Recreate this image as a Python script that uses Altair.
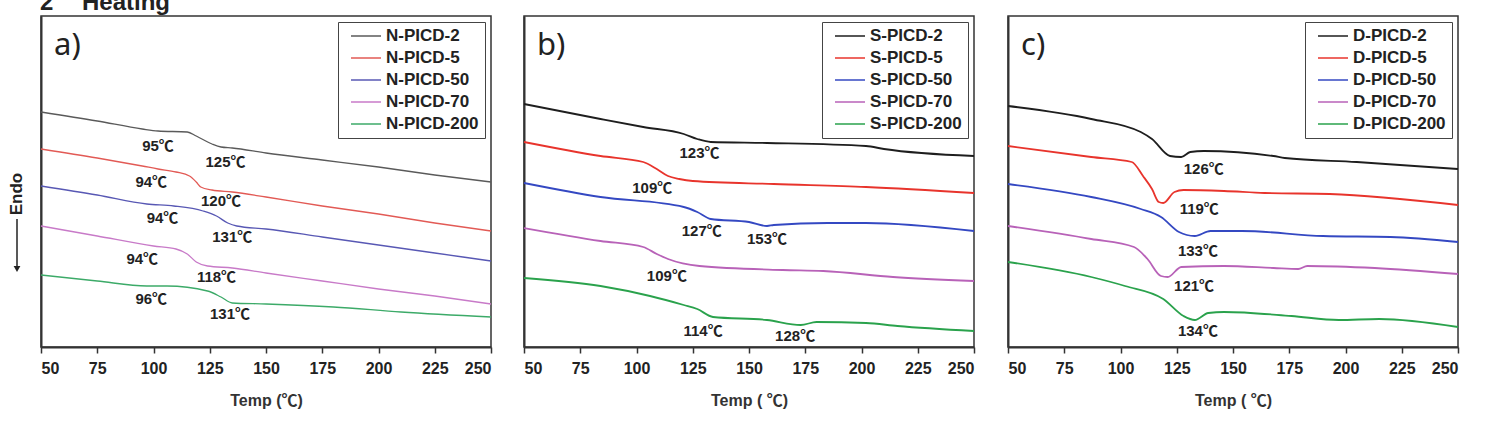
import altair as alt
import pandas as pd

# ---------------- data (temperature in deg C, signal in a.u., endo downward) ----------------
N2_T = [50, 75, 95, 102, 115, 119, 126, 130, 135, 150, 175, 200, 225, 250]
N2_Y = [113, 122, 130, 132, 133, 137, 145, 148, 149, 154, 161, 168, 176, 183]
N5_T = [50, 75, 95, 102, 110, 116, 119, 121, 126, 135, 150, 175, 200, 225, 250]
N5_Y = [150, 159, 167, 170, 173, 177, 183, 188, 191, 193, 198, 207, 215, 224, 232]
N50_T = [50, 75, 97, 109, 122, 128, 133, 137, 150, 175, 200, 225, 250]
N50_Y = [187, 196, 205, 207, 212, 217, 224, 227, 230, 238, 246, 254, 262]
N70_T = [50, 75, 100, 110, 115, 119, 124, 135, 150, 175, 200, 225, 250]
N70_Y = [227, 237, 247, 250, 255, 263, 267, 269, 274, 282, 290, 297, 305]
N200_T = [50, 75, 97, 106, 124, 130, 135, 150, 180, 210, 250]
N200_Y = [276, 282, 287, 287, 292, 298, 304, 305, 308, 313, 318]

S2_T = [50, 84, 103, 121, 127, 133, 158, 202, 210, 250]
S2_Y = [105, 120, 128, 135, 140, 143, 144, 147, 150, 157]
S5_T = [50, 84, 103, 109, 114, 119, 125, 161, 202, 250]
S5_Y = [143, 157, 163, 170, 177, 180, 182, 185, 188, 194]
S50_T = [50, 84, 121, 127, 133, 150, 158, 161, 185, 202, 250]
S50_Y = [184, 198, 208, 213, 220, 223, 227, 226, 224, 224, 232]
S70_T = [50, 84, 103, 109, 114, 128, 165, 183, 214, 250]
S70_Y = [229, 242, 248, 255, 260, 267, 271, 272, 278, 282]
S200_T = [50, 84, 106, 121, 127, 134, 158, 173, 180, 202, 216, 250]
S200_Y = [279, 287, 297, 306, 310, 318, 321, 326, 323, 324, 327, 332]

D2_T = [50, 87, 109, 114, 122, 127, 131, 137, 168, 173, 205, 250]
D2_Y = [107, 120, 133, 140, 157, 158, 153, 152, 157, 159, 163, 170]
D5_T = [50, 87, 105, 110, 114, 117, 119, 124, 128, 146, 164, 193, 250]
D5_Y = [147, 158, 163, 177, 190, 203, 204, 193, 191, 192, 194, 195, 206]
D50_T = [50, 87, 109, 118, 126, 133, 140, 154, 190, 220, 250]
D50_Y = [185, 198, 210, 218, 233, 237, 232, 232, 237, 238, 243]
D70_T = [50, 87, 106, 112, 118, 121, 127, 146, 168, 179, 183, 213, 250]
D70_Y = [227, 240, 248, 260, 277, 278, 268, 267, 269, 270, 267, 269, 275]
D200_T = [50, 87, 102, 119, 128, 133, 139, 146, 176, 197, 215, 250]
D200_Y = [263, 278, 287, 300, 317, 321, 314, 313, 317, 321, 320, 328]

N_NAMES = ["N-PICD-2", "N-PICD-5", "N-PICD-50", "N-PICD-70", "N-PICD-200"]
S_NAMES = ["S-PICD-2", "S-PICD-5", "S-PICD-50", "S-PICD-70", "S-PICD-200"]
D_NAMES = ["D-PICD-2", "D-PICD-5", "D-PICD-50", "D-PICD-70", "D-PICD-200"]

N_COLORS = ["#5a5a5a", "#e25a55", "#5858b4", "#c87ac8", "#3caa68"]
S_COLORS = ["#1e1e1e", "#e8342c", "#3448c2", "#b862b8", "#2aa24c"]
D_COLORS = ["#1e1e1e", "#e8342c", "#3448c2", "#b862b8", "#2aa24c"]

# annotations: label, temperature position, signal position
N_LAB = ["95℃", "125℃", "94℃", "120℃", "94℃", "131℃", "94℃", "118℃", "96℃", "131℃"]
N_LAB_T = [102, 132, 99, 130, 104, 135, 95, 128, 99, 134]
N_LAB_Y = [147, 163, 183, 202, 219, 238, 260, 278, 300, 315]
S_LAB = ["123℃", "109℃", "127℃", "153℃", "109℃", "114℃", "128℃"]
S_LAB_T = [128, 107, 129, 158, 113.5, 129.6, 170.5]
S_LAB_Y = [154, 189, 232, 240, 277, 332, 337]
D_LAB = ["126℃", "119℃", "133℃", "121℃", "134℃"]
D_LAB_T = [137, 135, 134.4, 132.7, 134.4]
D_LAB_Y = [170, 210, 252, 287, 332]

X_TICKS = [50 + 12.5 * i for i in range(17)]

FONT = "Liberation Sans, Arial, Noto Sans CJK SC, DejaVu Sans"
W, H = 450, 331


def series_df(names, ts, ys):
    rows = []
    for n, t, y in zip(names, ts, ys):
        for a, b in zip(t, y):
            rows.append({"series": n, "T": a, "sig": b})
    return pd.DataFrame(rows)


def panel(names, colors, ts, ys, labs, lab_t, lab_y, letter, xtitle, sw, extra=None):
    df = series_df(names, ts, ys)
    xscale = alt.Scale(domain=[50, 250], nice=False, zero=False)
    yscale = alt.Scale(domain=[17, 348], reverse=True, nice=False, zero=False)
    xaxis = alt.Axis(
        values=X_TICKS,
        labelExpr="datum.value % 25 === 0 ? datum.label : ''",
        tickSize={"condition": {"test": "datum.value % 25 === 0", "value": 6}, "value": 3},
        title=xtitle,
        grid=False,
        domainColor="#333", domainWidth=2, tickColor="#333", tickWidth=1.5,
        labelFont=FONT, labelFontSize=16, labelFontWeight="bold", labelColor="#222", labelPadding=7,
        titleFont=FONT, titleFontSize=16, titleFontWeight="bold", titleColor="#333", titlePadding=16,
    )
    yaxis = alt.Axis(labels=False, ticks=False, title=None, grid=False,
                     domainColor="#333", domainWidth=2)
    lines = alt.Chart(df).mark_line(strokeWidth=sw, interpolate="monotone").encode(
        x=alt.X("T:Q", scale=xscale, axis=xaxis),
        y=alt.Y("sig:Q", scale=yscale, axis=yaxis),
        color=alt.Color(
            "series:N",
            scale=alt.Scale(domain=names, range=colors),
            sort=names,
            legend=alt.Legend(
                title=None,
                orient="top-right",
                offset=6,
                strokeColor="#444",
                fillColor="white",
                padding=6,
                symbolType="M-1,0H1",
                symbolSize=900,
                symbolStrokeWidth=1.6,
                symbolOffset=6,
                clipHeight=16,
                labelFont=FONT,
                labelFontSize=17,
                labelFontWeight="bold",
                labelColor="#222",
                labelOffset=4,
                rowPadding=5,
            ),
        ),
        detail="series:N",
    )
    ldf = pd.DataFrame({"lab": labs, "T": lab_t, "sig": lab_y})
    texts = alt.Chart(ldf).mark_text(
        font=FONT, fontSize=15, fontWeight="bold", color="#222"
    ).encode(x=alt.X("T:Q", scale=xscale), y=alt.Y("sig:Q", scale=yscale), text="lab:N")
    let = alt.Chart(pd.DataFrame({"t": [letter]})).mark_text(
        font="Noto Sans", fontSize=31, align="left", baseline="alphabetic", color="#222"
    ).encode(x=alt.value(13), y=alt.value(39), text="t:N")
    layers = [lines, texts, let]
    if extra:
        layers += extra
    return alt.layer(*layers).properties(width=W, height=H)


# decorations for panel a: heading, Endo label and arrow
head = alt.Chart(pd.DataFrame({"t": ["2", "Heating"], "px": [-1, 41]})).mark_text(
    font=FONT, fontSize=24, fontWeight="bold", align="left", baseline="alphabetic", color="#222"
).encode(x=alt.X("px:Q", scale=None), y=alt.value(-6), text="t:N")
endo = alt.Chart(pd.DataFrame({"t": ["Endo"]})).mark_text(
    font=FONT, fontSize=17, fontWeight="bold", angle=270, align="center", baseline="middle", color="#222"
).encode(x=alt.value(-24), y=alt.value(178), text="t:N")
shaft = alt.Chart(pd.DataFrame({"t": [0]})).mark_rule(color="#222", strokeWidth=1.5).encode(
    x=alt.value(-24), y=alt.value(203), y2=alt.value(252)
)
head_tri = alt.Chart(pd.DataFrame({"t": [0]})).mark_point(
    shape="triangle-down", filled=True, size=45, color="#222", opacity=1
).encode(x=alt.value(-24), y=alt.value(253))

pa = panel(N_NAMES, N_COLORS, [N2_T, N5_T, N50_T, N70_T, N200_T], [N2_Y, N5_Y, N50_Y, N70_Y, N200_Y],
           N_LAB, N_LAB_T, N_LAB_Y, "a)", "Temp (℃)", 1.3, [head, endo, shaft, head_tri])
pb = panel(S_NAMES, S_COLORS, [S2_T, S5_T, S50_T, S70_T, S200_T], [S2_Y, S5_Y, S50_Y, S70_Y, S200_Y],
           S_LAB, S_LAB_T, S_LAB_Y, "b)", "Temp ( ℃)", 1.8)
pc = panel(D_NAMES, D_COLORS, [D2_T, D5_T, D50_T, D70_T, D200_T], [D2_Y, D5_Y, D50_Y, D70_Y, D200_Y],
           D_LAB, D_LAB_T, D_LAB_Y, "c)", "Temp ( ℃)", 1.8)

chart = alt.hconcat(pa, pb, pc, spacing=24).resolve_scale(color="independent").properties(
    padding={"left": 7, "top": -10, "right": 0, "bottom": 0},
    background="white",
).configure_view(
    stroke="#333", strokeWidth=1.5
)

chart.save("out.html", embed_options={"renderer": "svg", "actions": False})
